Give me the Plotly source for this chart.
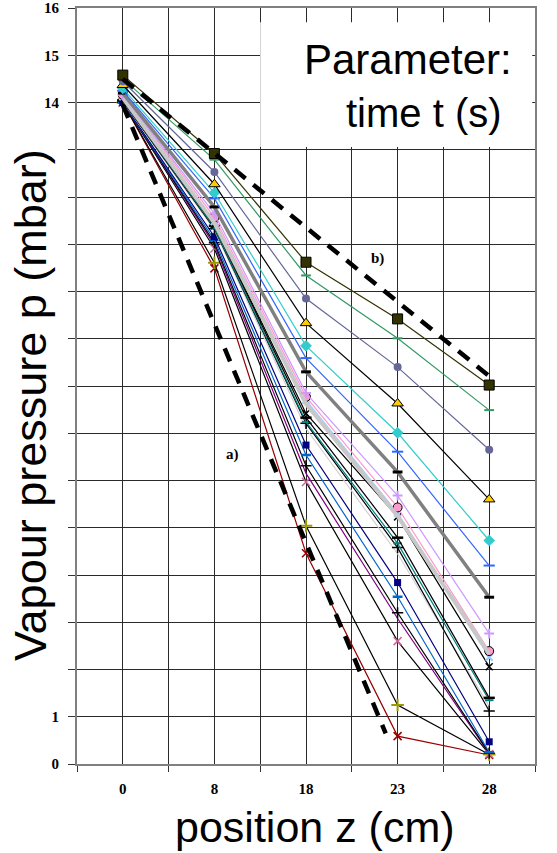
import plotly.graph_objects as go

# ---- data ----
positions = ["0", "8", "18", "23", "28"]          # position z (cm)
ytick_vals = list(range(0, 17))
ytick_text = ["0", "1"] + [""] * 12 + ["14", "15", "16"]

p_olive_sq   = [14.58, 12.92, 10.62, 9.42, 8.02]
p_green      = [14.50, 12.79, 10.34, 9.01, 7.49]
p_slate      = [14.45, 12.53, 9.85, 8.40, 6.65]
p_triangle   = [14.37, 12.27, 9.33, 7.63, 5.60]
p_diamond    = [14.30, 12.09, 8.85, 7.01, 4.73]
p_blue_plus  = [14.25, 11.97, 8.59, 6.61, 4.20]
p_gray_thick = [14.20, 11.79, 8.30, 6.18, 3.53]
p_lilac      = [14.16, 11.65, 7.85, 5.68, 2.76]
p_pink_circ  = [14.16, 11.57, 7.77, 5.43, 2.39]
p_lightblue  = [14.12, 11.48, 7.70, 5.31, 2.26]
p_lightgray  = [14.10, 11.45, 7.62, 5.25, 2.33]
p_black_x    = [14.08, 11.40, 7.42, 5.23, 2.06]
p_black_dash = [14.05, 11.39, 7.33, 4.79, 1.40]
p_teal       = [14.05, 11.35, 7.24, 4.67, 1.35]
p_black_pl1  = [14.03, 11.33, 7.21, 4.58, 1.12]
p_gray_thin  = [14.02, 11.30, 7.10, 4.45, 1.22]
p_navy_sq    = [14.00, 11.16, 6.75, 3.84, 0.47]
p_blue_dash  = [14.00, 11.09, 6.54, 3.54, 0.25]
p_black_pl2  = [14.00, 11.03, 6.31, 3.20, 0.23]
p_purple     = [14.00, 10.98, 6.15, 3.08, 0.22]
p_rose_x     = [14.00, 10.91, 5.97, 2.60, 0.21]
p_olive_pl   = [14.00, 10.61, 5.04, 1.25, 0.20]
p_red_x      = [14.00, 10.49, 4.46, 0.59, 0.19]

# bounding curves a) and b): position index, pressure
a_pos = [0, 2.87]
a_val = [13.95, 0.65]
b_pos = [0, 4]
b_val = [14.50, 8.21]

# ---- styles ----
series = [
    (p_olive_sq,   "#333300", 1.2, "square",      10, "#333300", "#000000", 1),
    (p_green,      "#339966", 1.2, "line-ew",      7, "#339966", "#339966", 2),
    (p_slate,      "#666699", 1.2, "circle",       8, "#666699", "#666699", 0),
    (p_triangle,   "#000000", 1.2, "triangle-up", 10, "#FFCC00", "#000000", 1),
    (p_diamond,    "#33CCCC", 1.2, "diamond",      9, "#33CCCC", "#33CCCC", 0),
    (p_blue_plus,  "#3366FF", 1.2, "line-ew",      8, "#3366FF", "#3366FF", 2),
    (p_gray_thick, "#808080", 3.5, "line-ew",      7, "#000000", "#000000", 3),
    (p_lilac,      "#CC99FF", 1.2, "cross-thin",   7, "#CC99FF", "#CC99FF", 2),
    (p_lightgray,  "#C8C8C8", 4.0, None,           0, None, None, 0),
    (p_pink_circ,  "#FF99CC", 1.2, "circle",       9, "#FF99CC", "#000000", 1),
    (p_lightblue,  "#99CCFF", 1.2, "x-thin",       7, "#99CCFF", "#99CCFF", 2),
    (p_black_x,    "#000000", 1.2, "x-thin",       7, "#000000", "#000000", 1.5),
    (p_black_dash, "#000000", 1.2, "line-ew",      8, "#000000", "#000000", 2.5),
    (p_teal,       "#008080", 1.2, "line-ew",      6, "#008080", "#008080", 2),
    (p_black_pl1,  "#000000", 1.2, "cross-thin",   8, "#000000", "#000000", 1.5),
    (p_gray_thin,  "#D0D0D0", 1.2, None,           0, None, None, 0),
    (p_navy_sq,    "#000080", 1.2, "square",       7, "#000080", "#000080", 0),
    (p_blue_dash,  "#0066CC", 1.2, "line-ew",      7, "#0066CC", "#0066CC", 2.5),
    (p_black_pl2,  "#000000", 1.2, "cross-thin",   8, "#000000", "#000000", 1.5),
    (p_purple,     "#800080", 1.2, None,           0, None, None, 0),
    (p_rose_x,     "#000000", 1.2, "x-thin",       8, "#CC6699", "#CC6699", 1.5),
    (p_olive_pl,   "#000000", 1.2, "cross-thin",   9, "#999900", "#999900", 2),
    (p_red_x,      "#990000", 1.2, "x-thin",       8, "#990000", "#990000", 1.5),
]

GRID = "#2a2a2a"
AXIS = "#808080"
xidx = list(range(len(positions)))

fig = go.Figure()
# draw the latest (lowest) curves first so the upper ones sit on top at z = 0
for vals, lc, lw, sym, size, fill, mline, mlw in reversed(series):
    if sym is None:
        fig.add_trace(go.Scatter(x=xidx, y=vals, mode="lines",
                                 line=dict(color=lc, width=lw), showlegend=False))
    else:
        fig.add_trace(go.Scatter(x=xidx, y=vals, mode="lines+markers",
                                 line=dict(color=lc, width=lw),
                                 marker=dict(symbol=sym, size=size, color=fill,
                                             line=dict(color=mline, width=mlw)),
                                 showlegend=False))

for px, pv in ((a_pos, a_val), (b_pos, b_val)):
    fig.add_trace(go.Scatter(x=px, y=pv, mode="lines",
                             line=dict(color="black", width=4.5, dash="14px,10px"),
                             showlegend=False))

tickfont = dict(family="Liberation Serif, Times New Roman, serif", size=15,
                color="black", weight="bold")
arial = "Liberation Sans, Arial, sans-serif"

fig.update_layout(
    width=557, height=853,
    margin=dict(l=77, r=22, t=8, b=89, autoexpand=False),
    paper_bgcolor="white", plot_bgcolor="white",
    xaxis=dict(range=[-0.5, 4.5], tickmode="array", tickvals=xidx, ticktext=positions,
               ticks="", showgrid=True, gridcolor=GRID, gridwidth=1, zeroline=False,
               showline=True, linecolor=AXIS, linewidth=2, mirror=True, automargin=False,
               tickfont=tickfont, ticklabelstandoff=10,
               minor=dict(tickmode="array", tickvals=[-0.5 + i for i in range(6)],
                          ticks="outside", ticklen=6, tickcolor="#333333",
                          showgrid=True, gridcolor=GRID, gridwidth=1)),
    yaxis=dict(range=[0, 16], tickmode="array", tickvals=ytick_vals, ticktext=ytick_text,
               ticks="outside", ticklen=7, tickcolor="#333333", automargin=False,
               showgrid=True, gridcolor=GRID, gridwidth=1, zeroline=False,
               showline=True, linecolor=AXIS, linewidth=2, mirror=True,
               tickfont=tickfont, ticklabelstandoff=6),
    shapes=[dict(type="rect", xref="x", yref="y", x0=1.5, x1=4.47, y0=13.06, y1=15.70,
                 fillcolor="white", line=dict(width=0), layer="above")],
    annotations=[
        dict(text="Parameter:", xref="x", yref="y", x=3.11, y=14.9, showarrow=False,
             font=dict(family=arial, size=42, color="black")),
        dict(text="time t (s)", xref="x", yref="y", x=3.29, y=13.78, showarrow=False,
             font=dict(family=arial, size=40, color="black")),
        dict(text="a)", xref="x", yref="y", x=1.2, y=6.54, showarrow=False,
             font=dict(family="Liberation Serif, Times New Roman, serif", size=15,
                       color="black", weight="bold")),
        dict(text="b)", xref="x", yref="y", x=2.78, y=10.69, showarrow=False,
             font=dict(family="Liberation Serif, Times New Roman, serif", size=15,
                       color="black", weight="bold")),
        dict(text="Vapour pressure p (mbar)", xref="paper", yref="paper",
             x=-0.1, y=0.475, xanchor="center", yanchor="middle", textangle=-90,
             showarrow=False, font=dict(family=arial, size=45, color="black")),
        dict(text="position z (cm)", xref="paper", yref="paper",
             x=0.52, y=-0.0833, xanchor="center", yanchor="middle",
             showarrow=False, font=dict(family=arial, size=43, color="black")),
    ],
)

fig.write_html("out.html", config={"displayModeBar": False},
               post_script="document.body.style.margin='0';"
                           "document.body.style.overflow='hidden';")
